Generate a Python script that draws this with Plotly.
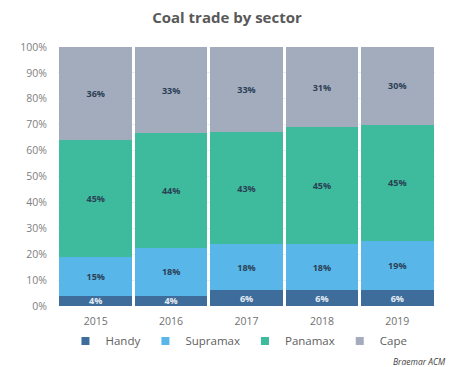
import plotly.graph_objects as go

years = ["2015", "2016", "2017", "2018", "2019"]
handy = [4, 4, 6, 6, 6]
supramax = [15, 18, 18, 18, 19]
panamax = [45, 44, 43, 45, 45]
cape = [36, 33, 33, 31, 30]
y_ticks = [0, 10, 20, 30, 40, 50, 60, 70, 80, 90, 100]

series = [
    ("Handy", handy, "#3e6d9b", "#e8eef5"),
    ("Supramax", supramax, "#58b6e8", "#2b3f55"),
    ("Panamax", panamax, "#3dbb9c", "#2b3f55"),
    ("Cape", cape, "#a3acbd", "#2b3f55"),
]

fig = go.Figure()
for name, vals, color, tcolor in series:
    fig.add_trace(go.Bar(
        x=years, y=vals, name=name, showlegend=False,
        marker=dict(color=color, line=dict(width=0)),
        text=[f"{v}%" for v in vals],
        textposition="inside", insidetextanchor="middle",
        textfont=dict(family="Open Sans", size=9, color=tcolor, weight="bold"),
        hoverinfo="skip",
    ))
for name, vals, color, tcolor in series:
    fig.add_trace(go.Scatter(
        x=[None], y=[None], mode="markers", name=name,
        marker=dict(symbol="square", size=8, color=color),
    ))

fig.update_layout(
    barmode="stack", barnorm="percent", bargap=0.035,
    width=454, height=367,
    margin=dict(l=58, r=19, t=47, b=58),
    paper_bgcolor="white", plot_bgcolor="white",
    title=dict(text="<b>Coal trade by sector</b>", x=0.5, xanchor="center", y=0.952, yanchor="middle",
               font=dict(family="Open Sans", size=15, color="#595959")),
    font=dict(family="Open Sans", color="#707070"),
    uniformtext=dict(minsize=7, mode="show"),
    legend=dict(orientation="h", x=0.48, xanchor="center", y=-0.135, yanchor="middle",
                font=dict(size=11.5, color="#606060"), traceorder="normal",
                itemwidth=30),
    showlegend=True,
)
fig.update_yaxes(range=[0, 100], tickvals=y_ticks, ticktext=[f"{v}%" for v in y_ticks],
                 tickfont=dict(size=10.5, color="#808080"), showgrid=True,
                 gridcolor="rgba(200,200,200,0.35)", zeroline=False, ticks="",
                 ticklabelstandoff=10, showline=False)
fig.update_xaxes(tickfont=dict(size=10.5, color="#707070"), showline=False, ticks="",
                 ticklabelstandoff=7)

fig.add_annotation(text="<i>Braemar ACM</i>", xref="paper", yref="paper", x=1.035, y=-0.215,
                   xanchor="right", yanchor="middle", showarrow=False,
                   font=dict(family="Open Sans", size=8.5, color="#404040"))

fig.write_html("out.html")
